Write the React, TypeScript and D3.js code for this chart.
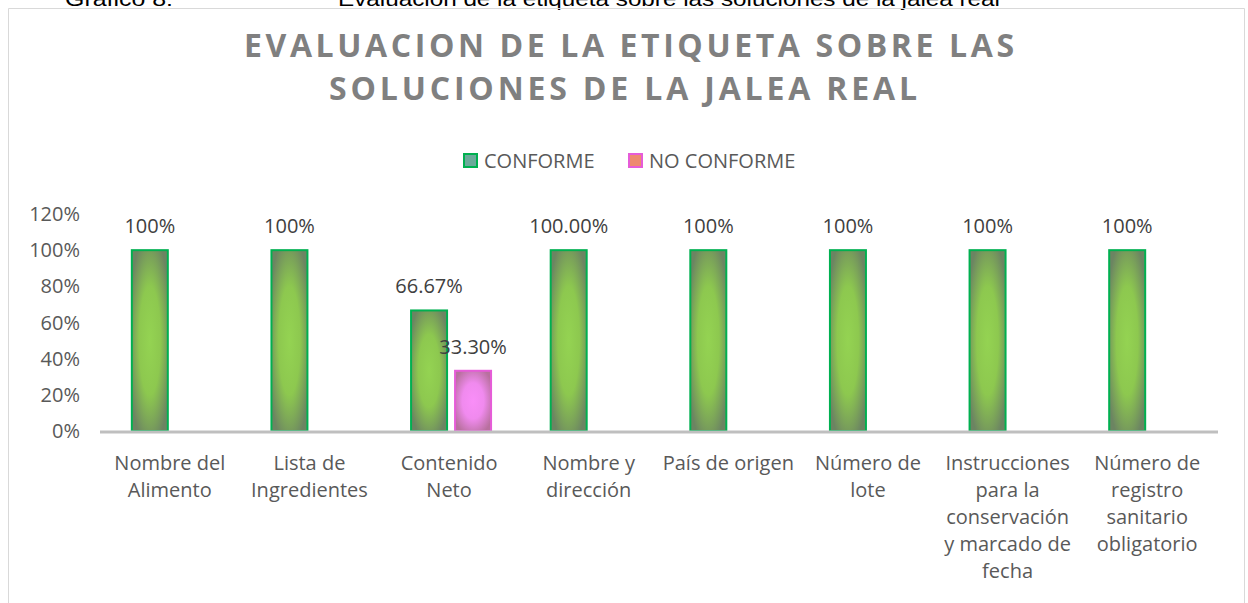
import React from "react";
import * as d3 from "d3";

const categories: string[][] = [
  ["Nombre del", "Alimento"],
  ["Lista de", "Ingredientes"],
  ["Contenido", "Neto"],
  ["Nombre y", "dirección"],
  ["País de origen"],
  ["Número de", "lote"],
  ["Instrucciones", "para la", "conservación", "y marcado de", "fecha"],
  ["Número de", "registro", "sanitario", "obligatorio"],
];
const conforme: number[] = [1, 1, 0.6667, 1, 1, 1, 1, 1];
const conformeLabels: string[] = ["100%", "100%", "66.67%", "100.00%", "100%", "100%", "100%", "100%"];
const noConforme: (number | null)[] = [null, null, 0.333, null, null, null, null, null];
const noConformeLabels: string[] = ["", "", "33.30%", "", "", "", "", ""];
const yTicks: number[] = [0, 0.2, 0.4, 0.6, 0.8, 1.0, 1.2];
const seriesNames: string[] = ["CONFORME", "NO CONFORME"];

const FONT = "'Open Sans', 'Noto Sans', sans-serif";
const FS = 20;

export default function App() {
  const W = 1248;
  const H = 603;
  const x = d3.scaleBand<number>().domain(d3.range(categories.length)).range([100, 1217]).padding(0);
  const y = d3.scaleLinear().domain([0, 1.2]).range([431, 214]);
  const bw = 36;
  const fmt = d3.format(".0%");

  return (
    <svg width={W} height={H} style={{ position: "absolute", left: 0, top: 0, background: "#fff" }}>
      <defs>
        <radialGradient id="gGreen" cx="50%" cy="50%" r="60%">
          <stop offset="0%" stopColor="#94D352" />
          <stop offset="50%" stopColor="#8DC84F" />
          <stop offset="100%" stopColor="#6C8462" />
        </radialGradient>
        <radialGradient id="gPink" cx="50%" cy="50%" r="60%">
          <stop offset="0%" stopColor="#F98EF8" />
          <stop offset="50%" stopColor="#F08AEE" />
          <stop offset="100%" stopColor="#B8709E" />
        </radialGradient>
      </defs>
      {/* caption (cut off at top edge) */}
      <text x={65} y={6} fontFamily="Arial, 'Liberation Sans', sans-serif" fontSize={20} fill="#000" textLength={108} lengthAdjust="spacingAndGlyphs">
        Gráfico 8:
      </text>
      <text x={338} y={6} fontFamily="Arial, 'Liberation Sans', sans-serif" fontSize={20} fill="#000" textLength={662} lengthAdjust="spacingAndGlyphs">
        Evaluación de la etiqueta sobre las soluciones de la jalea real
      </text>
      {/* frame */}
      <path d={`M8.5,${H + 5} V8.5 H1244.5 V${H + 5}`} fill="none" stroke="#D9D9D9" strokeWidth={1} />
      {/* title */}
      <g fontFamily={FONT} fontWeight="bold" fill="#808080" fontSize={32} textAnchor="middle">
        <text x={629} y={57} textLength={770} lengthAdjust="spacing">EVALUACION DE LA ETIQUETA SOBRE LAS</text>
        <text x={623} y={100} textLength={588} lengthAdjust="spacing">SOLUCIONES DE LA JALEA REAL</text>
      </g>
      {/* legend */}
      <g fontFamily={FONT} fontSize={FS} fill="#595959">
        <rect x={464} y={154} width={13} height={13} fill="#6BAA9A" stroke="#00B050" strokeWidth={2} />
        <text x={484} y={168}>{seriesNames[0]}</text>
        <rect x={629} y={154} width={13} height={13} fill="#EE8A70" stroke="#E65CD8" strokeWidth={2} />
        <text x={649} y={168}>{seriesNames[1]}</text>
      </g>
      {/* y axis labels */}
      <g fontFamily={FONT} fontSize={FS} fill="#595959" textAnchor="end">
        {yTicks.map((t) => (
          <text key={t} x={80} y={y(t) + 7}>
            {fmt(t)}
          </text>
        ))}
      </g>
      {/* bars */}
      {conforme.map((v, i) => {
        const c = x(i)! + x.bandwidth() / 2;
        return (
          <rect key={"c" + i} x={c - 38} y={y(v)} width={bw} height={y(0) - y(v)} fill="url(#gGreen)" stroke="#00B050" strokeWidth={2} />
        );
      })}
      {noConforme.map((v, i) => {
        if (v == null) return null;
        const c = x(i)! + x.bandwidth() / 2;
        return (
          <rect key={"n" + i} x={c + 6} y={y(v)} width={bw} height={y(0) - y(v)} fill="url(#gPink)" stroke="#E65CD8" strokeWidth={2} />
        );
      })}
      {/* axis line */}
      <line x1={100} x2={1218} y1={432} y2={432} stroke="#BFBFBF" strokeWidth={3} />
      {/* data labels */}
      <g fontFamily={FONT} fontSize={FS} fill="#404040" textAnchor="middle">
        {conforme.map((v, i) => {
          const c = x(i)! + x.bandwidth() / 2;
          return (
            <text key={"lc" + i} x={c - 20} y={y(v) - 17}>
              {conformeLabels[i]}
            </text>
          );
        })}
        {noConforme.map((v, i) => {
          if (v == null) return null;
          const c = x(i)! + x.bandwidth() / 2;
          return (
            <text key={"ln" + i} x={c + 24} y={y(v) - 17}>
              {noConformeLabels[i]}
            </text>
          );
        })}
      </g>
      {/* category labels */}
      <g fontFamily={FONT} fontSize={FS} fill="#595959" textAnchor="middle">
        {categories.map((lines, i) => {
          const c = x(i)! + x.bandwidth() / 2;
          return (
            <text key={"cat" + i}>
              {lines.map((l, j) => (
                <tspan key={j} x={c} y={470 + j * 27}>
                  {l}
                </tspan>
              ))}
            </text>
          );
        })}
      </g>
    </svg>
  );
}
